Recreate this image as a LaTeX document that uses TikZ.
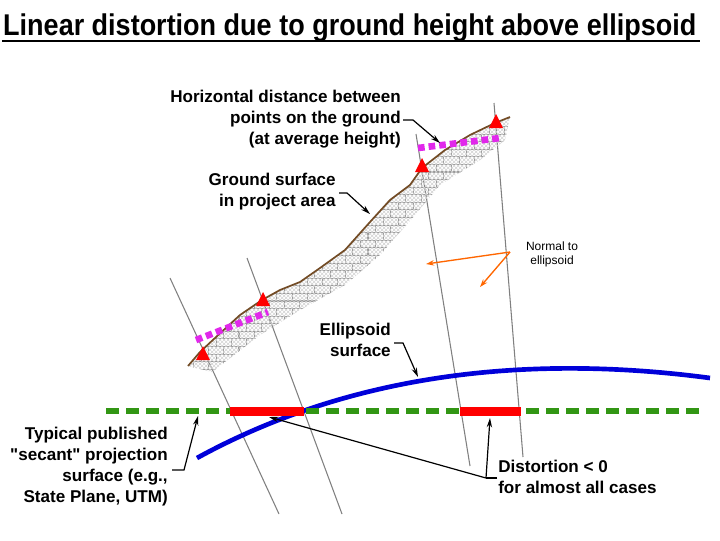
\documentclass[tikz,border=0pt]{standalone}
\usepackage{fontspec}
\setmainfont{Liberation Sans}
\usetikzlibrary{patterns,arrows.meta}
\definecolor{mag}{RGB}{225,40,235}
\definecolor{grn}{RGB}{50,150,20}
\tikzset{
 lbl/.style={font=\bfseries\fontsize{12.8}{15.75}\selectfont, align=right, inner sep=0pt},
 lead/.style={black, line width=0.9pt, -{Stealth[length=7pt,width=4pt]}},
 normal/.style={gray, line width=0.8pt},
 tri/.style={fill=red, draw=none},
}
\begin{document}
\begin{tikzpicture}[x=0.75pt,y=-0.75pt]
\useasboundingbox (0,0) rectangle (720,540);
% title
\node[anchor=base west, inner sep=0pt, font=\bfseries\fontsize{22.5}{26}\selectfont, xscale=0.9] (title) at (3,35) {Linear distortion due to ground height above ellipsoid};
\draw[line width=1pt] (2,41) -- (700,41);
% normals
\draw[normal] (170,278) -- (279,514);
\draw[normal] (247,258) -- (342,514);
\draw[normal] (416,134) -- (470,466);
\draw[normal] (494,103) -- (523,457);
% hatched ground
\fill[pattern=bricks, pattern color=gray!80] (188,366) -- (200,352) -- (215,338) -- (240,315) -- (262,300) -- (280,290) -- (300,282) -- (320,268) -- (345,250) -- (370,222) -- (390,200) -- (410,185) -- (422,168) -- (445,150) -- (470,135) -- (495,123) -- (510,117) -- (505,140) -- (480,160) -- (440,185) -- (415,215) -- (380,255) -- (345,285) -- (300,310) -- (260,335) -- (225,362) -- (212,372) -- cycle;
\fill[pattern=crosshatch, pattern color=gray!35] (188,366) -- (200,352) -- (215,338) -- (240,315) -- (262,300) -- (280,290) -- (300,282) -- (320,268) -- (345,250) -- (370,222) -- (390,200) -- (410,185) -- (422,168) -- (445,150) -- (470,135) -- (495,123) -- (510,117) -- (505,140) -- (480,160) -- (440,185) -- (415,215) -- (380,255) -- (345,285) -- (300,310) -- (260,335) -- (225,362) -- (212,372) -- cycle;
\draw[brown!60!black, line width=1.3pt] (188,366) -- (200,352) -- (215,338) -- (240,315) -- (262,300) -- (280,290) -- (300,282) -- (320,268) -- (345,250) -- (370,222) -- (390,200) -- (410,185) -- (422,168) -- (445,150) -- (470,135) -- (495,123) -- (510,117);
% magenta
\draw[mag, line width=5pt, dash pattern=on 5pt off 3pt] (196,340) -- (268,312);
\draw[mag, line width=5pt, dash pattern=on 5pt off 3pt] (418,148) -- (500,138);
% triangles
\foreach \p in {(203,356),(263,302),(422,168),(496,124)}{
 \fill[tri] \p ++(0,-10) -- ++(7,14) -- ++(-14,0) -- cycle;}
% orange arrows
\coordinate (nv) at (510,252);
\coordinate (n1) at (426,264);
\coordinate (n2) at (480,287);
\draw[orange!80!red, line width=1pt, -{Stealth[length=6pt,width=4pt]}] (nv) -- (n1);
\draw[orange!80!red, line width=1pt, -{Stealth[length=6pt,width=4pt]}] (nv) -- (n2);
\node[font=\fontsize{9}{10.5}\selectfont, align=center, inner sep=0pt] (normlbl) at (552,254) {Normal to\\ellipsoid};
% ellipsoid
\draw[blue!85!black, line width=3.5pt] (197,458) .. controls (330,385) and (500,350) .. (710,378);
% projection line
\draw[grn, line width=4.5pt, dash pattern=on 10pt off 5pt] (106,411) -- (705,411);
\fill[red] (230,407) rectangle (304,416);
\fill[red] (460,407) rectangle (521,416);
% labels
\node[lbl, anchor=north east] (hd) at (401,90) {Horizontal distance between\\points on the ground\\(at average height)};
\coordinate (hd1) at (403,120);
\draw[lead] (hd1) -- (413,120) -- (440,143);
\node[lbl, anchor=north east] (gs) at (336,173) {Ground surface\\in project area};
\draw[lead] (339,193) -- (347,193) -- (370,214);
\node[lbl, anchor=north east] (es) at (391,323) {Ellipsoid\\surface};
\draw[lead] (394,343) -- (403,343) -- (418,377);
\node[lbl, anchor=north east] (tp) at (168,427) {Typical published\\\textquotedbl secant\textquotedbl\ projection\\surface (e.g.,\\State Plane, UTM)};
\draw[lead] (172,470) -- (184,470) -- (198,416);
\node[lbl, anchor=north west, align=left] (dist) at (498,460) {Distortion < 0\\for almost all cases};
\coordinate (dv) at (486,478);
\draw[line width=0.9pt] (497,478) -- (dv);
\draw[lead] (dv) -- (269,417);
\draw[lead] (dv) -- (490,418);
\end{tikzpicture}
\end{document}
